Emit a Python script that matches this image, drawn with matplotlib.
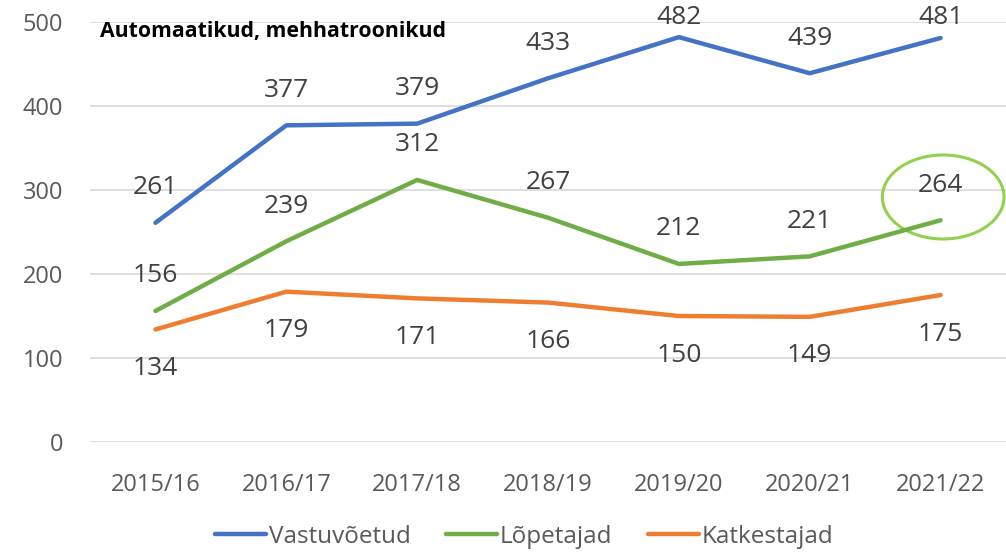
import matplotlib
matplotlib.use("Agg")
import matplotlib.pyplot as plt
from matplotlib.patches import Ellipse

years = ["2015/16", "2016/17", "2017/18", "2018/19", "2019/20", "2020/21", "2021/22"]
vastuvoetud = [261, 377, 379, 433, 482, 439, 481]
lopetajad = [156, 239, 312, 267, 212, 221, 264]
katkestajad = [134, 179, 171, 166, 150, 149, 175]

plt.rcParams['font.family'] = ['Open Sans', 'DejaVu Sans']
txt = '#404040'

fig = plt.figure(figsize=(10.06, 5.53), dpi=100)
ax = fig.add_axes([0.0895, 0.2007, 0.9105, 0.7595])
ax.set_xlim(-0.5, 6.5)
ax.set_ylim(0, 500)

x = list(range(len(years)))
series = [
    (vastuvoetud, "Vastuvõetud", "#4472C4", 35),
    (lopetajad, "Lõpetajad", "#70AD47", 35),
    (katkestajad, "Katkestajad", "#ED7D31", -39),
]
top_px = 553 - 18  # labels can't go higher than this (like excel does)
for vals, name, col, off in series:
    ax.plot(x, vals, color=col, lw=3.2, label=name, solid_capstyle='round')
    for xi, v in zip(x, vals):
        ypix = ax.transData.transform((xi, v))[1]
        dy = min(ypix + off, top_px) - ypix
        ax.annotate(str(v), (xi, v), xytext=(0, dy), textcoords='offset pixels',
                    ha='center', va='center', fontsize=19, color=txt, annotation_clip=False)

# green circle around the last value
ell = Ellipse((6.02, 291.7), 0.93, 100, fill=False, edgecolor='#92D050', lw=2.2, clip_on=False)
ax.add_patch(ell)

ax.set_yticks(range(0, 501, 100))
ax.set_xticks(x)
ax.set_xticklabels(years)
ax.grid(axis='y', color='#d9d9d9', lw=1.2)
ax.set_axisbelow(True)
for s in ax.spines.values():
    s.set_visible(False)
ax.tick_params(length=0, labelsize=17, colors='#595959')
ax.tick_params(axis='y', pad=19.5)
ax.tick_params(axis='x', pad=22)

ax.text(0.011, 0.978, "Automaatikud, mehhatroonikud", transform=ax.transAxes,
        fontsize=15.3, fontweight='bold', color='black', va='center', ha='left')

fig.legend(loc='center', bbox_to_anchor=(0.521, 0.029), ncol=3, frameon=False,
           fontsize=17.5, labelcolor='#595959', handlelength=2.1, handletextpad=0.12,
           columnspacing=1.45)

fig.savefig("out.png", dpi=100)
